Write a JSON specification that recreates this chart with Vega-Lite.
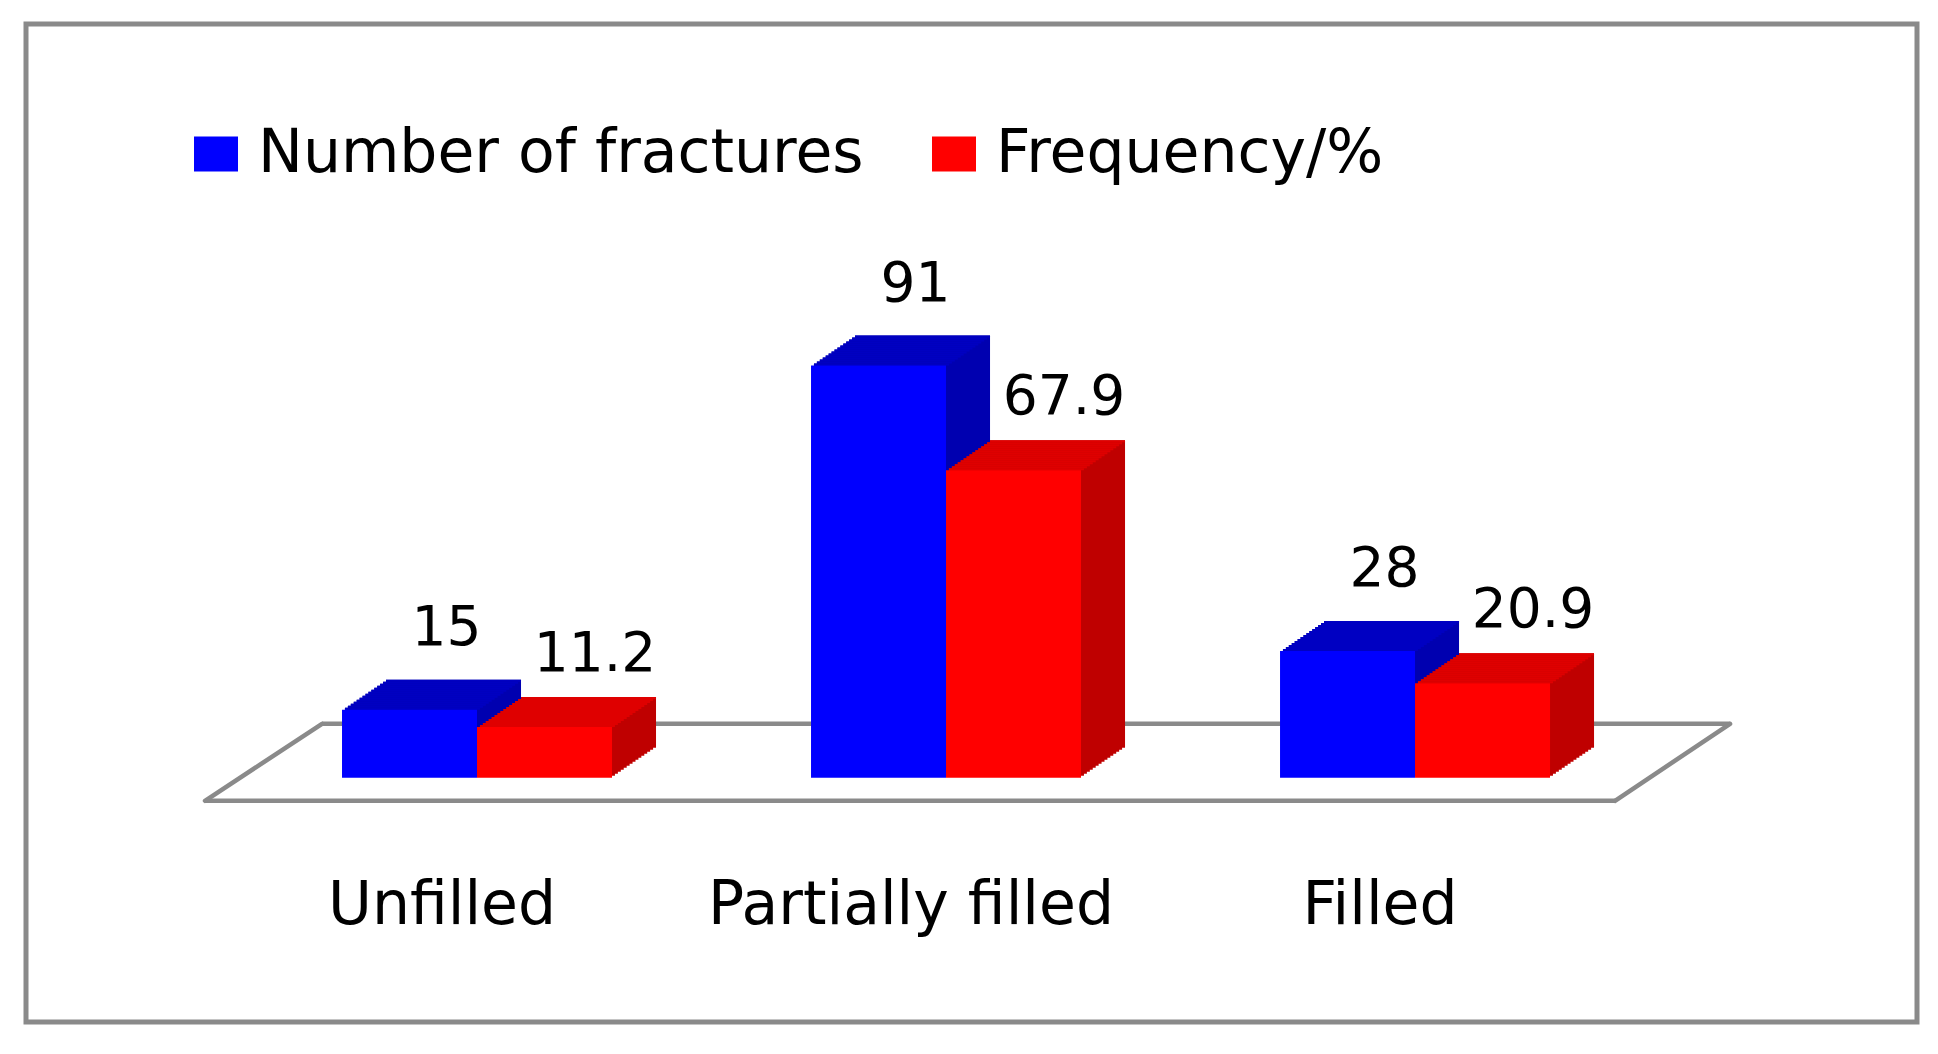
{
  "$schema": "https://vega.github.io/schema/vega-lite/v6.json",
  "autosize": "none",
  "width": 1891,
  "height": 998,
  "padding": {"left": 26, "top": 24, "right": 21, "bottom": 32},
  "background": "white",
  "config": {
    "view": {"stroke": "#8a8a8a", "strokeWidth": 5},
    "font": "DejaVu Sans"
  },
  "data": {
    "values": [
      {"category": "Unfilled", "series": "Number of fractures", "value": 15},
      {"category": "Unfilled", "series": "Frequency/%", "value": 11.2},
      {"category": "Partially filled", "series": "Number of fractures", "value": 91},
      {"category": "Partially filled", "series": "Frequency/%", "value": 67.9},
      {"category": "Filled", "series": "Number of fractures", "value": 28},
      {"category": "Filled", "series": "Frequency/%", "value": 20.9}
    ]
  },
  "encoding": {
    "x": {
      "field": "category",
      "type": "nominal",
      "sort": ["Unfilled", "Partially filled", "Filled"],
      "scale": {"paddingInner": 0.4243, "paddingOuter": 0.7281, "align": 0.4627},
      "axis": {
        "title": null,
        "ticks": false,
        "tickSize": 0,
        "domain": false,
        "grid": false,
        "labelAngle": 0,
        "labelFont": "DejaVu Sans",
        "labelFontSize": 60,
        "labelColor": "#000000",
        "labelBaseline": "alphabetic",
        "labelPadding": 0,
        "offset": -99,
        "labelOffset": -35,
        "labelLimit": 1000,
        "labelOverlap": false
      }
    },
    "y": {
      "field": "value",
      "type": "quantitative",
      "scale": {"domain": [-53.9, 166.4], "nice": false, "zero": false},
      "axis": null
    }
  },
  "layer": [
    {
      "transform": [{"filter": "datum.category === 'Unfilled' && datum.series === 'Number of fractures'"}],
      "layer": [
        {
          "mark": {"type": "rule", "color": "#8a8a8a", "strokeWidth": 4.5, "xOffset": -272, "x2Offset": 200, "yOffset": 23},
          "encoding": {"x": {"datum": "Unfilled", "type": "nominal"}, "x2": {"datum": "Filled"}, "y": {"datum": 0, "type": "quantitative"}}
        },
        {
          "mark": {"type": "rule", "color": "#8a8a8a", "strokeWidth": 4.5, "xOffset": -155, "x2Offset": 315, "yOffset": -54},
          "encoding": {"x": {"datum": "Unfilled", "type": "nominal"}, "x2": {"datum": "Filled"}, "y": {"datum": 0, "type": "quantitative"}}
        },
        {
          "mark": {"type": "rule", "color": "#8a8a8a", "strokeWidth": 4.5, "strokeCap": "round", "xOffset": -272, "x2Offset": -155, "yOffset": 23, "y2Offset": -54},
          "encoding": {"x": {"datum": "Unfilled", "type": "nominal"}, "x2": {"datum": "Unfilled"}, "y": {"datum": 0, "type": "quantitative"}, "y2": {"datum": 0}}
        },
        {
          "mark": {"type": "rule", "color": "#8a8a8a", "strokeWidth": 4.5, "strokeCap": "round", "xOffset": 200, "x2Offset": 315, "yOffset": 23, "y2Offset": -54},
          "encoding": {"x": {"datum": "Filled", "type": "nominal"}, "x2": {"datum": "Filled"}, "y": {"datum": 0, "type": "quantitative"}, "y2": {"datum": 0}}
        }
      ]
    },
    {
      "transform": [{"filter": "datum.series === 'Number of fractures'"}],
      "layer": [
        {"mark": {"type": "bar", "width": {"band": 0.5}, "color": "#0000B0", "xOffset": -64.57, "yOffset": -2, "y2Offset": -2}},
        {"mark": {"type": "bar", "width": {"band": 0.5}, "color": "#0000B0", "xOffset": -61.63, "yOffset": -4, "y2Offset": -4}},
        {"mark": {"type": "bar", "width": {"band": 0.5}, "color": "#0000B0", "xOffset": -58.7, "yOffset": -6, "y2Offset": -6}},
        {"mark": {"type": "bar", "width": {"band": 0.5}, "color": "#0000B0", "xOffset": -55.77, "yOffset": -8, "y2Offset": -8}},
        {"mark": {"type": "bar", "width": {"band": 0.5}, "color": "#0000B0", "xOffset": -52.83, "yOffset": -10, "y2Offset": -10}},
        {"mark": {"type": "bar", "width": {"band": 0.5}, "color": "#0000B0", "xOffset": -49.9, "yOffset": -12, "y2Offset": -12}},
        {"mark": {"type": "bar", "width": {"band": 0.5}, "color": "#0000B0", "xOffset": -46.97, "yOffset": -14, "y2Offset": -14}},
        {"mark": {"type": "bar", "width": {"band": 0.5}, "color": "#0000B0", "xOffset": -44.03, "yOffset": -16, "y2Offset": -16}},
        {"mark": {"type": "bar", "width": {"band": 0.5}, "color": "#0000B0", "xOffset": -41.1, "yOffset": -18, "y2Offset": -18}},
        {"mark": {"type": "bar", "width": {"band": 0.5}, "color": "#0000B0", "xOffset": -38.17, "yOffset": -20, "y2Offset": -20}},
        {"mark": {"type": "bar", "width": {"band": 0.5}, "color": "#0000B0", "xOffset": -35.23, "yOffset": -22, "y2Offset": -22}},
        {"mark": {"type": "bar", "width": {"band": 0.5}, "color": "#0000B0", "xOffset": -32.3, "yOffset": -24, "y2Offset": -24}},
        {"mark": {"type": "bar", "width": {"band": 0.5}, "color": "#0000B0", "xOffset": -29.37, "yOffset": -26, "y2Offset": -26}},
        {"mark": {"type": "bar", "width": {"band": 0.5}, "color": "#0000B0", "xOffset": -26.43, "yOffset": -28, "y2Offset": -28}},
        {"mark": {"type": "bar", "width": {"band": 0.5}, "color": "#0000B0", "xOffset": -23.5, "yOffset": -30, "y2Offset": -30}},
        {"mark": {"type": "bar", "width": {"band": 0.5}, "color": "#0000C2", "xOffset": -64.57, "yOffset": -2, "y2Offset": 0}, "encoding": {"y2": {"field": "value"}}},
        {"mark": {"type": "bar", "width": {"band": 0.5}, "color": "#0000C2", "xOffset": -61.63, "yOffset": -4, "y2Offset": -2}, "encoding": {"y2": {"field": "value"}}},
        {"mark": {"type": "bar", "width": {"band": 0.5}, "color": "#0000C2", "xOffset": -58.7, "yOffset": -6, "y2Offset": -4}, "encoding": {"y2": {"field": "value"}}},
        {"mark": {"type": "bar", "width": {"band": 0.5}, "color": "#0000C2", "xOffset": -55.77, "yOffset": -8, "y2Offset": -6}, "encoding": {"y2": {"field": "value"}}},
        {"mark": {"type": "bar", "width": {"band": 0.5}, "color": "#0000C2", "xOffset": -52.83, "yOffset": -10, "y2Offset": -8}, "encoding": {"y2": {"field": "value"}}},
        {"mark": {"type": "bar", "width": {"band": 0.5}, "color": "#0000C2", "xOffset": -49.9, "yOffset": -12, "y2Offset": -10}, "encoding": {"y2": {"field": "value"}}},
        {"mark": {"type": "bar", "width": {"band": 0.5}, "color": "#0000C2", "xOffset": -46.97, "yOffset": -14, "y2Offset": -12}, "encoding": {"y2": {"field": "value"}}},
        {"mark": {"type": "bar", "width": {"band": 0.5}, "color": "#0000C2", "xOffset": -44.03, "yOffset": -16, "y2Offset": -14}, "encoding": {"y2": {"field": "value"}}},
        {"mark": {"type": "bar", "width": {"band": 0.5}, "color": "#0000C2", "xOffset": -41.1, "yOffset": -18, "y2Offset": -16}, "encoding": {"y2": {"field": "value"}}},
        {"mark": {"type": "bar", "width": {"band": 0.5}, "color": "#0000C2", "xOffset": -38.17, "yOffset": -20, "y2Offset": -18}, "encoding": {"y2": {"field": "value"}}},
        {"mark": {"type": "bar", "width": {"band": 0.5}, "color": "#0000C2", "xOffset": -35.23, "yOffset": -22, "y2Offset": -20}, "encoding": {"y2": {"field": "value"}}},
        {"mark": {"type": "bar", "width": {"band": 0.5}, "color": "#0000C2", "xOffset": -32.3, "yOffset": -24, "y2Offset": -22}, "encoding": {"y2": {"field": "value"}}},
        {"mark": {"type": "bar", "width": {"band": 0.5}, "color": "#0000C2", "xOffset": -29.37, "yOffset": -26, "y2Offset": -24}, "encoding": {"y2": {"field": "value"}}},
        {"mark": {"type": "bar", "width": {"band": 0.5}, "color": "#0000C2", "xOffset": -26.43, "yOffset": -28, "y2Offset": -26}, "encoding": {"y2": {"field": "value"}}},
        {"mark": {"type": "bar", "width": {"band": 0.5}, "color": "#0000C2", "xOffset": -23.5, "yOffset": -30, "y2Offset": -28}, "encoding": {"y2": {"field": "value"}}},
        {
          "mark": {"type": "bar", "width": {"band": 0.5}, "xOffset": -67.5},
          "encoding": {
            "color": {
              "field": "series",
              "type": "nominal",
              "scale": {"domain": ["Number of fractures", "Frequency/%"], "range": ["#0000FF", "#FF0000"]},
              "legend": {
                "title": null,
                "orient": "none",
                "direction": "horizontal",
                "legendX": 160,
                "legendY": 100,
                "padding": 0,
                "labelFont": "DejaVu Sans",
                "labelFontSize": 60,
                "labelColor": "#000000",
                "labelLimit": 1000,
                "labelOffset": 12,
                "columnPadding": 60,
                "symbolType": "M-1,-0.8H1V0.8H-1Z",
                "symbolSize": 1936,
                "symbolStrokeWidth": 0,
                "symbolOpacity": 1
              }
            }
          }
        }
      ]
    },
    {
      "transform": [{"filter": "datum.series === 'Frequency/%'"}],
      "layer": [
        {"mark": {"type": "bar", "width": {"band": 0.5}, "color": "#BF0000", "xOffset": 70.43, "yOffset": -2, "y2Offset": -2}},
        {"mark": {"type": "bar", "width": {"band": 0.5}, "color": "#BF0000", "xOffset": 73.37, "yOffset": -4, "y2Offset": -4}},
        {"mark": {"type": "bar", "width": {"band": 0.5}, "color": "#BF0000", "xOffset": 76.3, "yOffset": -6, "y2Offset": -6}},
        {"mark": {"type": "bar", "width": {"band": 0.5}, "color": "#BF0000", "xOffset": 79.23, "yOffset": -8, "y2Offset": -8}},
        {"mark": {"type": "bar", "width": {"band": 0.5}, "color": "#BF0000", "xOffset": 82.17, "yOffset": -10, "y2Offset": -10}},
        {"mark": {"type": "bar", "width": {"band": 0.5}, "color": "#BF0000", "xOffset": 85.1, "yOffset": -12, "y2Offset": -12}},
        {"mark": {"type": "bar", "width": {"band": 0.5}, "color": "#BF0000", "xOffset": 88.03, "yOffset": -14, "y2Offset": -14}},
        {"mark": {"type": "bar", "width": {"band": 0.5}, "color": "#BF0000", "xOffset": 90.97, "yOffset": -16, "y2Offset": -16}},
        {"mark": {"type": "bar", "width": {"band": 0.5}, "color": "#BF0000", "xOffset": 93.9, "yOffset": -18, "y2Offset": -18}},
        {"mark": {"type": "bar", "width": {"band": 0.5}, "color": "#BF0000", "xOffset": 96.83, "yOffset": -20, "y2Offset": -20}},
        {"mark": {"type": "bar", "width": {"band": 0.5}, "color": "#BF0000", "xOffset": 99.77, "yOffset": -22, "y2Offset": -22}},
        {"mark": {"type": "bar", "width": {"band": 0.5}, "color": "#BF0000", "xOffset": 102.7, "yOffset": -24, "y2Offset": -24}},
        {"mark": {"type": "bar", "width": {"band": 0.5}, "color": "#BF0000", "xOffset": 105.63, "yOffset": -26, "y2Offset": -26}},
        {"mark": {"type": "bar", "width": {"band": 0.5}, "color": "#BF0000", "xOffset": 108.57, "yOffset": -28, "y2Offset": -28}},
        {"mark": {"type": "bar", "width": {"band": 0.5}, "color": "#BF0000", "xOffset": 111.5, "yOffset": -30, "y2Offset": -30}},
        {"mark": {"type": "bar", "width": {"band": 0.5}, "color": "#DF0000", "xOffset": 70.43, "yOffset": -2, "y2Offset": 0}, "encoding": {"y2": {"field": "value"}}},
        {"mark": {"type": "bar", "width": {"band": 0.5}, "color": "#DF0000", "xOffset": 73.37, "yOffset": -4, "y2Offset": -2}, "encoding": {"y2": {"field": "value"}}},
        {"mark": {"type": "bar", "width": {"band": 0.5}, "color": "#DF0000", "xOffset": 76.3, "yOffset": -6, "y2Offset": -4}, "encoding": {"y2": {"field": "value"}}},
        {"mark": {"type": "bar", "width": {"band": 0.5}, "color": "#DF0000", "xOffset": 79.23, "yOffset": -8, "y2Offset": -6}, "encoding": {"y2": {"field": "value"}}},
        {"mark": {"type": "bar", "width": {"band": 0.5}, "color": "#DF0000", "xOffset": 82.17, "yOffset": -10, "y2Offset": -8}, "encoding": {"y2": {"field": "value"}}},
        {"mark": {"type": "bar", "width": {"band": 0.5}, "color": "#DF0000", "xOffset": 85.1, "yOffset": -12, "y2Offset": -10}, "encoding": {"y2": {"field": "value"}}},
        {"mark": {"type": "bar", "width": {"band": 0.5}, "color": "#DF0000", "xOffset": 88.03, "yOffset": -14, "y2Offset": -12}, "encoding": {"y2": {"field": "value"}}},
        {"mark": {"type": "bar", "width": {"band": 0.5}, "color": "#DF0000", "xOffset": 90.97, "yOffset": -16, "y2Offset": -14}, "encoding": {"y2": {"field": "value"}}},
        {"mark": {"type": "bar", "width": {"band": 0.5}, "color": "#DF0000", "xOffset": 93.9, "yOffset": -18, "y2Offset": -16}, "encoding": {"y2": {"field": "value"}}},
        {"mark": {"type": "bar", "width": {"band": 0.5}, "color": "#DF0000", "xOffset": 96.83, "yOffset": -20, "y2Offset": -18}, "encoding": {"y2": {"field": "value"}}},
        {"mark": {"type": "bar", "width": {"band": 0.5}, "color": "#DF0000", "xOffset": 99.77, "yOffset": -22, "y2Offset": -20}, "encoding": {"y2": {"field": "value"}}},
        {"mark": {"type": "bar", "width": {"band": 0.5}, "color": "#DF0000", "xOffset": 102.7, "yOffset": -24, "y2Offset": -22}, "encoding": {"y2": {"field": "value"}}},
        {"mark": {"type": "bar", "width": {"band": 0.5}, "color": "#DF0000", "xOffset": 105.63, "yOffset": -26, "y2Offset": -24}, "encoding": {"y2": {"field": "value"}}},
        {"mark": {"type": "bar", "width": {"band": 0.5}, "color": "#DF0000", "xOffset": 108.57, "yOffset": -28, "y2Offset": -26}, "encoding": {"y2": {"field": "value"}}},
        {"mark": {"type": "bar", "width": {"band": 0.5}, "color": "#DF0000", "xOffset": 111.5, "yOffset": -30, "y2Offset": -28}, "encoding": {"y2": {"field": "value"}}},
        {
          "mark": {"type": "bar", "width": {"band": 0.5}, "xOffset": 67.5},
          "encoding": {
            "color": {
              "field": "series",
              "type": "nominal",
              "scale": {"domain": ["Number of fractures", "Frequency/%"], "range": ["#0000FF", "#FF0000"]}
            }
          }
        }
      ]
    },
    {
      "transform": [{"filter": "datum.series === 'Number of fractures'"}],
      "mark": {"type": "text", "font": "DejaVu Sans", "fontSize": 55, "color": "#000000", "baseline": "alphabetic", "align": "center", "dx": -30.5, "dy": -65},
      "encoding": {"text": {"field": "value", "type": "nominal"}}
    },
    {
      "transform": [{"filter": "datum.series === 'Frequency/%'"}],
      "mark": {"type": "text", "font": "DejaVu Sans", "fontSize": 55, "color": "#000000", "baseline": "alphabetic", "align": "center", "dx": 118, "dy": -56},
      "encoding": {"text": {"field": "value", "type": "nominal"}}
    }
  ]
}
